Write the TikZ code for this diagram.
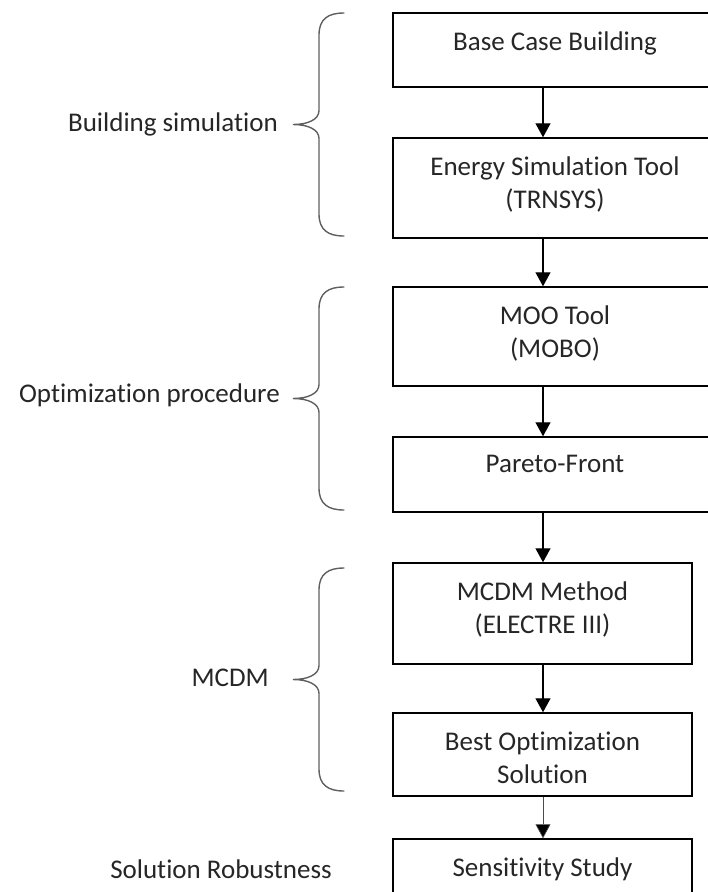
\documentclass[tikz,border=0pt]{standalone}
\usepackage{fontspec}
\setmainfont{Carlito}[Ligatures=NoCommon]
\usetikzlibrary{arrows.meta,positioning}

\definecolor{bracegray}{HTML}{5F5F5F}
\definecolor{inkgray}{HTML}{262626}

%curly brace drawn the way the word processor does it: #1 top, #2 bottom, #3 name of the tip
\newcommand{\groupbrace}[3]{%
	\draw[brace] (344,#1) .. controls (328,#1) and (319,#1+6) .. (319,#1+22)
		-- (319,{(#1+#2)/2-14})
		.. controls (319,{(#1+#2)/2-5}) and (308,{(#1+#2)/2}) .. (293,{(#1+#2)/2})
		.. controls (308,{(#1+#2)/2}) and (319,{(#1+#2)/2+5}) .. (319,{(#1+#2)/2+14})
		-- (319,#2-22)
		.. controls (319,#2-6) and (328,#2) .. (344,#2);
	\coordinate (#3) at (293,{(#1+#2)/2});
}

\tikzset{
	stage/.style={draw, line width=1.5pt, inner sep=0pt},
	stagetext/.style={anchor=north, yshift=-19pt, inner sep=0pt, align=center, text=inkgray},
	flow/.style={line width=1.4pt, -{Triangle[width=15pt,length=14pt]}},
	thinflow/.style={line width=0.7pt, draw=black!70, -{Triangle[width=15pt,length=14pt,fill=black]}},
	brace/.style={line width=1.4pt, draw=bracegray, line cap=round},
	group/.style={inner sep=0pt, text=inkgray}
}

\begin{document}
\begin{tikzpicture}[x=1pt, y=-1pt, font=\fontsize{27}{33}\selectfont]
		\useasboundingbox (0,0) rectangle (708,892);
		\clip (0,0) rectangle (708,892);
		\coordinate (axis) at (543,0);

		%the chain of boxes, the upper four run off the right edge
		\node[stage, minimum width=324pt, minimum height=74pt] (base) at (555,50) {};
		\node[stagetext] (basetxt) at (base.north) {Base Case Building};

		\node[stage, minimum width=324pt, minimum height=100pt] (sim) at (555,188) {};
		\node[stagetext] (simtxt) at (sim.north) {Energy Simulation Tool\\(TRNSYS)};

		\node[stage, minimum width=324pt, minimum height=99pt] (moo) at (555,336.5) {};
		\node[stagetext] (mootxt) at (moo.north) {MOO Tool\\(MOBO)};

		\node[stage, minimum width=324pt, minimum height=75pt] (pareto) at (555,474.5) {};
		\node[stagetext] (paretotxt) at (pareto.north) {Pareto-Front};

		\node[stage, minimum width=299pt, minimum height=101pt] (mcdm) at (542.5,613.5) {};
		\node[stagetext] (mcdmtxt) at (mcdm.north) {MCDM Method\\(ELECTRE III)};

		\node[stage, minimum width=299pt, minimum height=83pt] (best) at (542.5,754.5) {};
		\node[stagetext] (besttxt) at (best.north) {Best Optimization\\Solution};

		\node[stage, minimum width=299pt, minimum height=81pt] (sens) at (542.5,879.5) {};
		\node[stagetext] (senstxt) at (sens.north) {Sensitivity Study};

		%arrows all go down the same vertical line
		\draw[flow] (base.south -| axis) -- (sim.north -| axis);
		\draw[flow] (sim.south -| axis) -- (moo.north -| axis);
		\draw[flow] (moo.south -| axis) -- (pareto.north -| axis);
		\draw[flow] (pareto.south -| axis) -- (mcdm.north -| axis);
		\draw[flow] (mcdm.south -| axis) -- (best.north -| axis);
		\draw[thinflow] (best.south -| axis) -- (sens.north -| axis);

		%braces grouping the steps
		\groupbrace{13}{236}{tipsim}
		\groupbrace{287}{510}{tipopt}
		\groupbrace{568}{791}{tipmcdm}

		%group labels
		\node[group, left=15pt of tipsim] (simlabel) {Building simulation};
		\node[group, left=13pt of tipopt, yshift=3pt] (optlabel) {Optimization procedure};
		\node[group, left=24pt of tipmcdm, yshift=2pt] (mcdmlabel) {MCDM};
		\node[group, anchor=east] (robustlabel) at (332,869) {Solution Robustness};
	\end{tikzpicture}
\end{document}
